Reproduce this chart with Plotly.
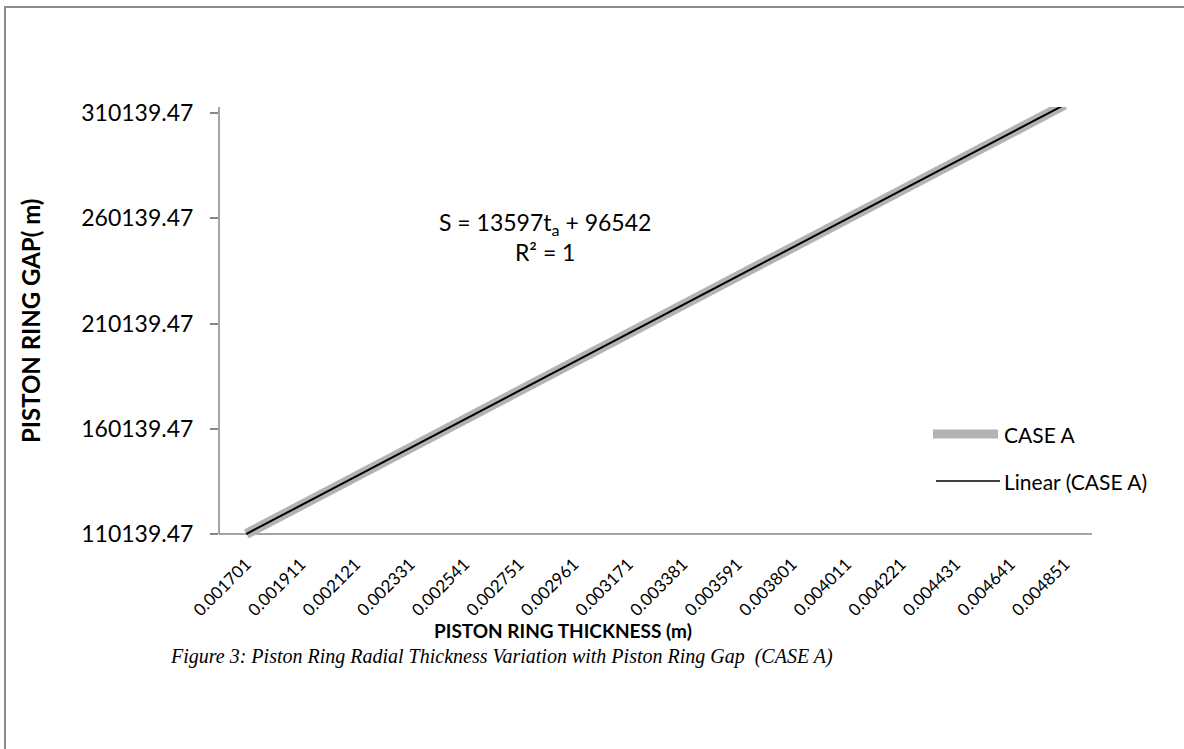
import plotly.graph_objects as go

thickness_labels = ["0.001701", "0.001911", "0.002121", "0.002331", "0.002541", "0.002751",
                    "0.002961", "0.003171", "0.003381", "0.003591", "0.003801", "0.004011",
                    "0.004221", "0.004431", "0.004641", "0.004851"]
gap_case_a = [110139.47, 123736.47, 137333.47, 150930.47, 164527.47, 178124.47,
              191721.47, 205318.47, 218915.47, 232512.47, 246109.47, 259706.47,
              273303.47, 286900.47, 300497.47, 314094.47]
# Linear trendline of CASE A (S = 13597 t + 96542, t = 1..16)
trend_case_a = [110139, 123736, 137333, 150930, 164527, 178124,
                191721, 205318, 218915, 232512, 246109, 259706,
                273303, 286900, 300497, 314094]
y_ticks = [110139.47, 160139.47, 210139.47, 260139.47, 310139.47]

W, H = 1184, 749
L, R, T, B = 219, 92, 107, 211
pw, ph = W - L - R, H - T - B
ymin, ymax = 108239, 312990


def px(x):
    return (x - L) / pw


def py(y):
    return (H - B - y) / ph


AX = "#868686"
FONT = "Lato"

fig = go.Figure()
fig.add_trace(go.Scatter(x=list(range(len(thickness_labels))), y=gap_case_a, mode="lines",
                         name="CASE A", line=dict(color="#b3b3b3", width=10),
                         showlegend=False))
fig.add_trace(go.Scatter(x=list(range(len(thickness_labels))), y=trend_case_a, mode="lines",
                         name="Linear (CASE A)", line=dict(color="black", width=2),
                         showlegend=False))

shapes = [
    # chart border
    dict(type="rect", xref="paper", yref="paper", x0=px(5), x1=px(1300), y0=py(900), y1=py(7),
         line=dict(color="#8c8c8c", width=2), fillcolor="rgba(0,0,0,0)", layer="below"),
    # y axis line
    dict(type="line", xref="paper", yref="y", x0=0, x1=0, y0=y_ticks[0], y1=ymax,
         line=dict(color=AX, width=1.5), layer="below"),
    # x axis line
    dict(type="line", xref="paper", yref="y", x0=0, x1=1, y0=y_ticks[0], y1=y_ticks[0],
         line=dict(color=AX, width=1.5), layer="below"),
    # legend samples
    dict(type="line", xref="paper", yref="paper", x0=px(933), x1=px(998), y0=py(434), y1=py(434),
         line=dict(color="#b3b3b3", width=9)),
    dict(type="line", xref="paper", yref="paper", x0=px(936), x1=px(1000), y0=py(481), y1=py(481),
         line=dict(color="black", width=1.5)),
]

annotations = [
    dict(text="S = 13597t<sub>a</sub> + 96542<br>R² = 1", xref="paper", yref="paper",
         x=px(545), y=py(237), xanchor="center", yanchor="middle", showarrow=False,
         font=dict(family=FONT, size=23, color="black"), align="center"),
    dict(text="CASE A", xref="paper", yref="paper", x=px(1002), y=py(434), xanchor="left",
         yanchor="middle", showarrow=False, font=dict(family=FONT, size=21, color="black")),
    dict(text="Linear (CASE A)", xref="paper", yref="paper", x=px(1002), y=py(481), xanchor="left",
         yanchor="middle", showarrow=False, font=dict(family=FONT, size=21, color="black")),
    dict(text="<b>PISTON RING THICKNESS (m)</b>", xref="paper", yref="paper",
         x=px(563), y=py(630), xanchor="center", yanchor="middle", showarrow=False,
         font=dict(family=FONT, size=19, color="black")),
    dict(text="<b>PISTON RING GAP( m)</b>", xref="paper", yref="paper", textangle=-90,
         x=px(30), y=py(321), xanchor="center", yanchor="middle", showarrow=False,
         font=dict(family=FONT, size=24, color="black")),
    dict(text="<i>Figure 3: Piston Ring Radial Thickness Variation with Piston Ring Gap  (CASE A)</i>",
         xref="paper", yref="paper", x=px(501), y=py(656), xanchor="center", yanchor="middle",
         showarrow=False, font=dict(family="Liberation Serif", size=20, color="black")),
]

fig.update_layout(
    width=W, height=H,
    margin=dict(l=L, r=R, t=T, b=B),
    paper_bgcolor="white", plot_bgcolor="white",
    shapes=shapes, annotations=annotations,
    showlegend=False,
    xaxis=dict(
        tickmode="array", tickvals=list(range(len(thickness_labels))), ticktext=thickness_labels,
        range=[-0.5, len(thickness_labels) - 0.5], tickangle=-45, ticks="",
        showgrid=False, zeroline=False, showline=False, ticklabelstandoff=12,
        tickfont=dict(family=FONT, size=17, color="black"),
    ),
    yaxis=dict(
        tickmode="array", tickvals=y_ticks, ticktext=[f"{v:.2f}" for v in y_ticks],
        range=[ymin, ymax], ticks="outside", ticklen=8, tickcolor=AX, tickwidth=1.5,
        showgrid=False, zeroline=False, showline=False, ticklabelstandoff=12,
        tickfont=dict(family=FONT, size=23, color="black"),
    ),
)

fig.write_html("out.html", config={"displayModeBar": False},
               post_script="document.body.style.margin='0px';")
